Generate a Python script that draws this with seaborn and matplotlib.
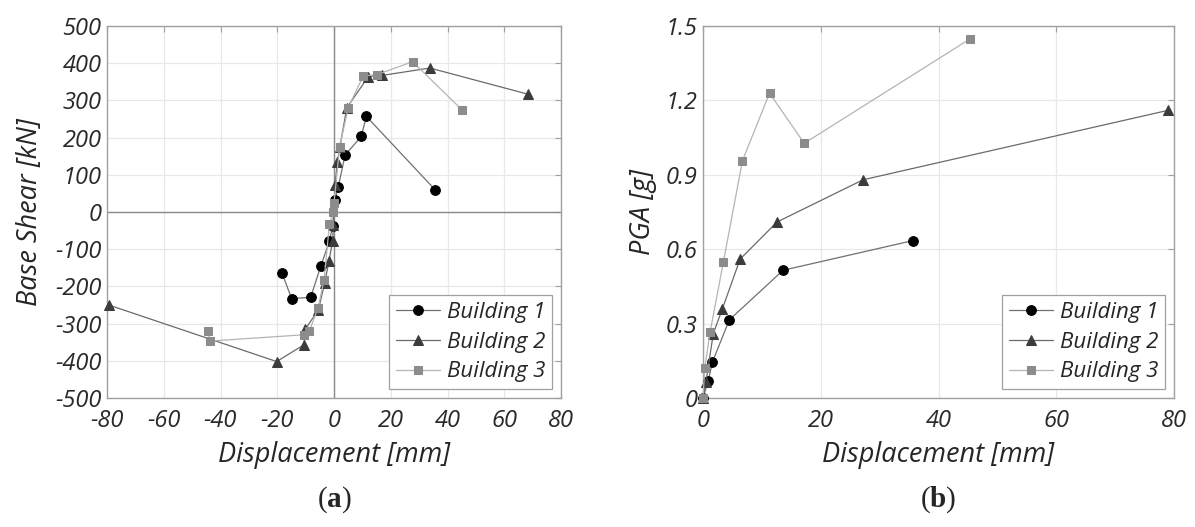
import matplotlib
matplotlib.use("Agg")
import matplotlib.pyplot as plt
import seaborn as sns
import pandas as pd

# ---------------- data ----------------
# (a) Base shear vs displacement
b1_disp_a = [-18.4, -14.9, -8.2, -4.6, -1.6, -0.5, 0.3, 1.5, 3.9, 9.6, 11.4, 35.6]
b1_shear = [-163, -233, -229, -144, -78, -38, 32, 67, 153, 203, 257, 60]

b2_disp_a = [-79.4, -20.2, -10.6, -10.1, -5.5, -3.3, -1.8, -0.5, -0.2, 0.35, 1.2, 2.1, 4.5, 12.1, 16.8, 33.8, 68.2]
b2_shear = [-250, -402, -357, -315, -263, -191, -133, -78, -35, 73, 135, 175, 280, 364, 367, 387, 317]

b3_disp_a = [-44.4, -43.7, -10.6, -8.7, -5.6, -3.5, -1.6, -0.3, 0.0, 2.0, 5.0, 10.3, 15.0, 27.7, 45.2]
b3_shear = [-320, -347, -330, -320, -258, -183, -32, 0, 25, 176, 280, 366, 369, 404, 274]

# (b) PGA vs displacement
b1_disp_b = [0, 0.9, 1.6, 4.47, 13.6, 35.7]
b1_pga = [0, 0.07, 0.145, 0.315, 0.515, 0.635]

b2_disp_b = [0, 0.5, 1.75, 3.3, 6.3, 12.6, 27.2, 79.0]
b2_pga = [0, 0.065, 0.26, 0.36, 0.56, 0.71, 0.88, 1.16]

b3_disp_b = [0, 0.3, 1.2, 3.45, 6.7, 11.3, 17.2, 45.35]
b3_pga = [0, 0.12, 0.265, 0.547, 0.957, 1.229, 1.027, 1.448]

labels = ["Building 1", "Building 2", "Building 3"]
xticks_a = [-80, -60, -40, -20, 0, 20, 40, 60, 80]
yticks_a = [-500, -400, -300, -200, -100, 0, 100, 200, 300, 400, 500]
xticks_b = [0, 20, 40, 60, 80]
yticks_b = [0, 0.3, 0.6, 0.9, 1.2, 1.5]
yticklabels_b = ["0", "0.3", "0.6", "0.9", "1.2", "1.5"]

# ---------------- style ----------------
sns.set_theme(style="white")
plt.rcParams["font.family"] = ["Open Sans", "DejaVu Sans"]
plt.rcParams["font.style"] = "italic"
plt.rcParams["axes.unicode_minus"] = False
plt.rcParams["mathtext.fontset"] = "custom"
plt.rcParams["mathtext.bf"] = "Liberation Serif:style=normal:weight=bold"
plt.rcParams["mathtext.rm"] = "Liberation Serif:style=normal:weight=normal"

styles = [
    dict(marker="o", color="#707070", markerfacecolor="#000000", markeredgecolor="#000000", markersize=7),
    dict(marker="^", color="#6a6a6a", markerfacecolor="#3c3c3c", markeredgecolor="#3c3c3c", markersize=7),
    dict(marker="s", color="#b4b4b4", markerfacecolor="#8c8c8c", markeredgecolor="#8c8c8c", markersize=5.5),
]

fig = plt.figure(figsize=(11.95, 5.27), dpi=100)
ax1 = fig.add_axes([107 / 1195, 1 - 398 / 527, (561 - 107) / 1195, (398 - 26) / 527])
ax2 = fig.add_axes([703 / 1195, 1 - 398 / 527, (1174 - 703) / 1195, (398 - 26) / 527])

series_a = [(b1_disp_a, b1_shear), (b2_disp_a, b2_shear), (b3_disp_a, b3_shear)]
series_b = [(b1_disp_b, b1_pga), (b2_disp_b, b2_pga), (b3_disp_b, b3_pga)]

for ax, series in [(ax1, series_a), (ax2, series_b)]:
    for (xs, ys), lab, st in zip(series, labels, styles):
        df = pd.DataFrame({"x": xs, "y": ys})
        sns.lineplot(data=df, x="x", y="y", ax=ax, sort=False, label=lab,
                     linewidth=0.9, clip_on=False, zorder=3, **st)

# axes (a)
ax1.set_xlim(-80, 80)
ax1.set_ylim(-500, 500)
ax1.set_xticks(xticks_a)
ax1.set_yticks(yticks_a)
ax1.axhline(0, color="#8a8a8a", linewidth=1.0, zorder=1)
ax1.axvline(0, color="#8a8a8a", linewidth=1.0, zorder=1)
ax1.set_ylabel("Base Shear [kN]", fontsize=19.5, labelpad=8)

# axes (b)
ax2.set_xlim(0, 80)
ax2.set_ylim(0, 1.5)
ax2.set_xticks(xticks_b)
ax2.set_yticks(yticks_b)
ax2.set_yticklabels(yticklabels_b)
ax2.set_ylabel("PGA [g]", fontsize=19.5, labelpad=6)

for ax in (ax1, ax2):
    ax.set_xlabel("Displacement [mm]", fontsize=19.5, labelpad=6)
    ax.grid(True, color="#e8e8e8", linewidth=0.9)
    ax.set_axisbelow(True)
    for sp in ax.spines.values():
        sp.set_color("#a0a0a0")
        sp.set_linewidth(1.0)
    ax.tick_params(axis="both", which="both", direction="in", length=4, width=0.8,
                   color="#a0a0a0", labelsize=17, labelcolor="#2a2a2a",
                   top=True, right=True, pad=4)
    ax.tick_params(axis="x", pad=8)
    leg = ax.legend(loc="lower right", fontsize=16, frameon=True, fancybox=False,
                    edgecolor="#a0a0a0", framealpha=1, borderpad=0.3, labelspacing=0.4,
                    handlelength=2.0, handletextpad=0.3, borderaxespad=0.4)
    leg.get_frame().set_linewidth(0.9)

fig.text(334 / 1195, 1 - 500 / 527, r"$\mathrm{(}\mathbf{a}\mathrm{)}$", fontsize=21,
         ha="center", va="center")
fig.text(938 / 1195, 1 - 500 / 527, r"$\mathrm{(}\mathbf{b}\mathrm{)}$", fontsize=21,
         ha="center", va="center")

fig.savefig("out.png", dpi=100)
